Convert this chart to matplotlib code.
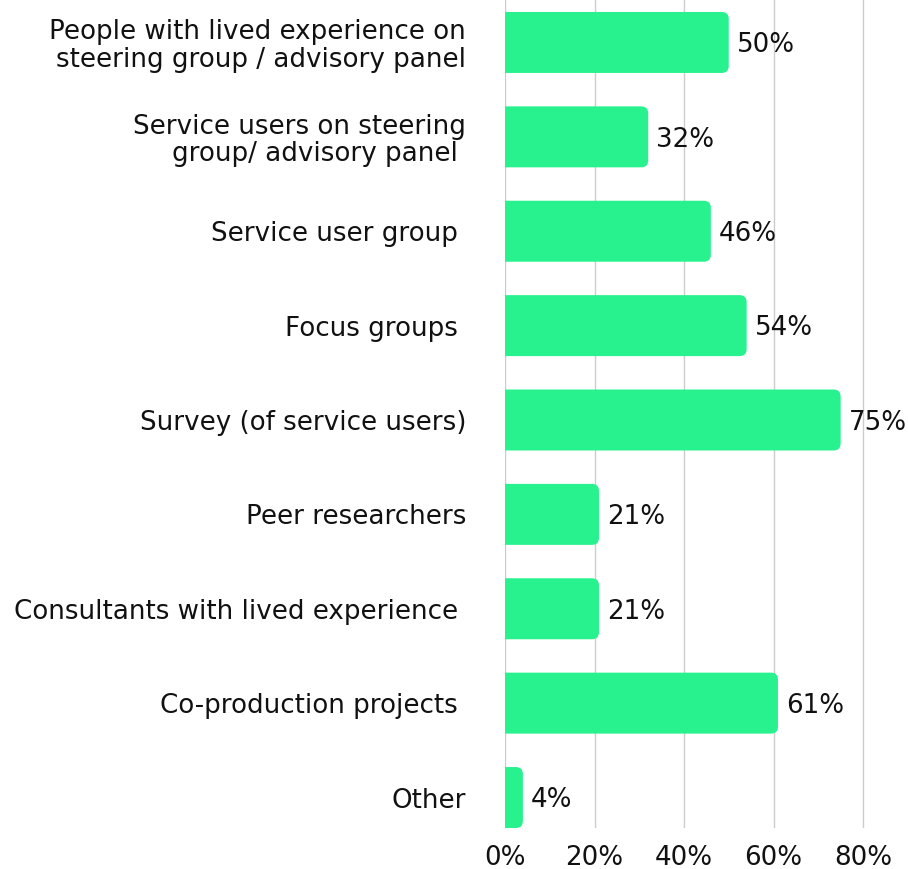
import matplotlib
matplotlib.use("Agg")
import matplotlib.pyplot as plt
from matplotlib.path import Path
from matplotlib.patches import PathPatch

# ------------------------------------------------------------
# Data
# ------------------------------------------------------------
categories = [
    "People with lived experience on\nsteering group / advisory panel",
    "Service users on steering\ngroup/ advisory panel ",
    "Service user group ",
    "Focus groups ",
    "Survey (of service users)",
    "Peer researchers",
    "Consultants with lived experience ",
    "Co-production projects ",
    "Other",
]
values = [50, 32, 46, 54, 75, 21, 21, 61, 4]
xticks = [0, 20, 40, 60, 80]
xtick_labels = ["0%", "20%", "40%", "60%", "80%"]

BAR_COLOR = "#28F28E"
TEXT_COLOR = "#111111"
FS = 18.8

plt.rcParams["font.family"] = ["DejaVu Sans"]

W, H, DPI = 908, 869, 100
fig = plt.figure(figsize=(W / DPI, H / DPI), dpi=DPI)

# axes box in pixels (80% gridline sits at x=863)
ax_l, ax_80, ax_r, ax_top, ax_bot = 505, 863, 908, 0, 828
ax = fig.add_axes([ax_l / W, 1 - ax_bot / H, (ax_r - ax_l) / W, (ax_bot - ax_top) / H])

n = len(categories)
bar_h = 0.646
y_top, y_bot = -0.45, n - 1 + bar_h / 2
px_x = (ax_80 - ax_l) / 80.0
ax.set_xlim(0, (ax_r - ax_l) / px_x)
ax.set_ylim(y_bot, y_top)

# rounded right end: radius in pixels, converted to data units
px_y = (ax_bot - ax_top) / (y_bot - y_top)
radius_px = 7
rx = radius_px / px_x
ry = radius_px / px_y


def rounded_bar(v, y0, h):
    r = min(rx, v / 2)
    y1 = y0 + h
    verts = [(0, y0), (v - r, y0), (v, y0), (v, y0 + ry),
             (v, y1 - ry), (v, y1), (v - r, y1), (0, y1), (0, y0)]
    codes = [Path.MOVETO, Path.LINETO, Path.CURVE3, Path.CURVE3,
             Path.LINETO, Path.CURVE3, Path.CURVE3, Path.LINETO, Path.CLOSEPOLY]
    return PathPatch(Path(verts, codes), facecolor=BAR_COLOR,
                     edgecolor="none", zorder=3)


for i, v in enumerate(values):
    ax.add_patch(rounded_bar(v, i - bar_h / 2, bar_h))
    ax.text(v + 8 / px_x, i + 0.03, f"{v}%", va="center", ha="left",
            fontsize=FS, color=TEXT_COLOR, clip_on=False)

ax.set_yticks(range(n))
ax.set_yticklabels(categories, fontsize=FS, color=TEXT_COLOR,
                   linespacing=1.08)
ax.set_xticks(xticks)
ax.set_xticklabels(xtick_labels, fontsize=FS, color=TEXT_COLOR)
ax.tick_params(axis="y", length=0, pad=28)
ax.tick_params(axis="x", length=0, pad=12)

for s in ax.spines.values():
    s.set_visible(False)
ax.grid(axis="x", color="#cccccc", linewidth=1, zorder=0)
ax.set_axisbelow(True)

fig.savefig("out.png", dpi=DPI, facecolor="white")
